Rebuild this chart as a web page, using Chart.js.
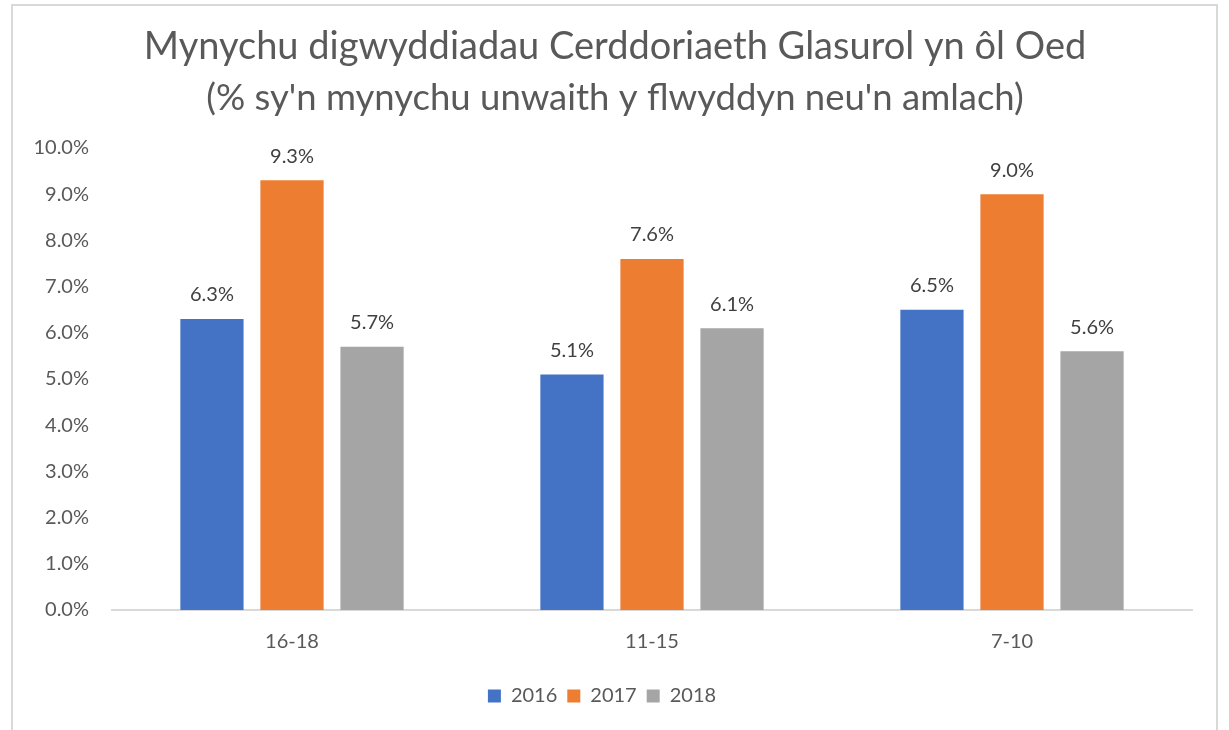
<!DOCTYPE html>
<html>
<head>
<meta charset="utf-8">
<script src="https://cdn.jsdelivr.net/npm/chart.js@4"></script>
<style>
html,body{margin:0;padding:0;background:#fff;}
#wrap{position:relative;width:1229px;height:730px;}
#frame{position:absolute;left:11px;top:4px;width:1207px;height:740px;border:2px solid #d9d9d9;box-sizing:border-box;pointer-events:none;}
canvas{position:absolute;left:0;top:0;}
</style>
</head>
<body>
<div id="wrap"><canvas id="c" width="1229" height="730"></canvas><div id="frame"></div></div>
<script>
const titleLines = ["Mynychu digwyddiadau Cerddoriaeth Glasurol yn ôl Oed", "(% sy'n mynychu unwaith y flwyddyn neu'n amlach)"];
const categories = ["16-18", "11-15", "7-10"];
const seriesNames = ["2016", "2017", "2018"];
const values2016 = [6.3, 5.1, 6.5];
const values2017 = [9.3, 7.6, 9.0];
const values2018 = [5.7, 6.1, 5.6];
const seriesColors = ["#4472C4", "#ED7D31", "#A5A5A5"];
const FONT = 'Lato, "Open Sans", sans-serif';

const titlePlugin = {
  id: 'customTitle',
  afterDraw(chart) {
    const ctx = chart.ctx;
    ctx.save();
    ctx.fillStyle = '#595959';
    ctx.textAlign = 'center';
    ctx.textBaseline = 'middle';
    ctx.font = '38px ' + FONT;
    ctx.fillText(titleLines[0], 615, 47);
    ctx.font = '36.5px ' + FONT;
    ctx.fillText(titleLines[1], 615, 98);
    ctx.restore();
  }
};

const labelPlugin = {
  id: 'barLabels',
  afterDatasetsDraw(chart) {
    const ctx = chart.ctx;
    ctx.save();
    ctx.fillStyle = '#404040';
    ctx.textAlign = 'center';
    ctx.textBaseline = 'middle';
    ctx.font = '20px ' + FONT;
    chart.data.datasets.forEach((ds, i) => {
      const meta = chart.getDatasetMeta(i);
      meta.data.forEach((bar, j) => {
        ctx.fillText(ds.data[j].toFixed(1) + '%', bar.x, bar.y - 24);
      });
    });
    ctx.restore();
  }
};

new Chart(document.getElementById('c'), {
  type: 'bar',
  data: {
    labels: categories,
    datasets: [
      { label: seriesNames[0], data: values2016, backgroundColor: seriesColors[0] },
      { label: seriesNames[1], data: values2017, backgroundColor: seriesColors[1] },
      { label: seriesNames[2], data: values2018, backgroundColor: seriesColors[2] }
    ]
  },
  options: {
    responsive: false,
    animation: false,
    layout: { padding: { left: 12, right: 37, top: 148, bottom: 14 } },
    datasets: { bar: { categoryPercentage: 0.667, barPercentage: 0.79 } },
    plugins: {
      title: { display: false },
      tooltip: { enabled: false },
      legend: {
        position: 'bottom',
        labels: {
          boxWidth: 13, boxHeight: 13, color: '#595959', padding: 10,
          font: { size: 20, family: FONT }
        }
      }
    },
    scales: {
      x: {
        grid: { display: false, drawTicks: false },
        border: { display: true, color: '#d9d9d9', width: 2 },
        ticks: { color: '#595959', padding: 20, font: { size: 20, family: FONT } },
        afterFit(scale) { scale.height = 66; }
      },
      y: {
        min: 0, max: 10,
        grid: { display: false, drawTicks: false },
        border: { display: false },
        ticks: {
          stepSize: 1, color: '#595959', padding: 23,
          font: { size: 20, family: FONT },
          callback: v => v.toFixed(1) + '%'
        },
        afterFit(scale) { scale.width = 100; }
      }
    }
  },
  plugins: [titlePlugin, labelPlugin]
});
</script>
</body>
</html>
